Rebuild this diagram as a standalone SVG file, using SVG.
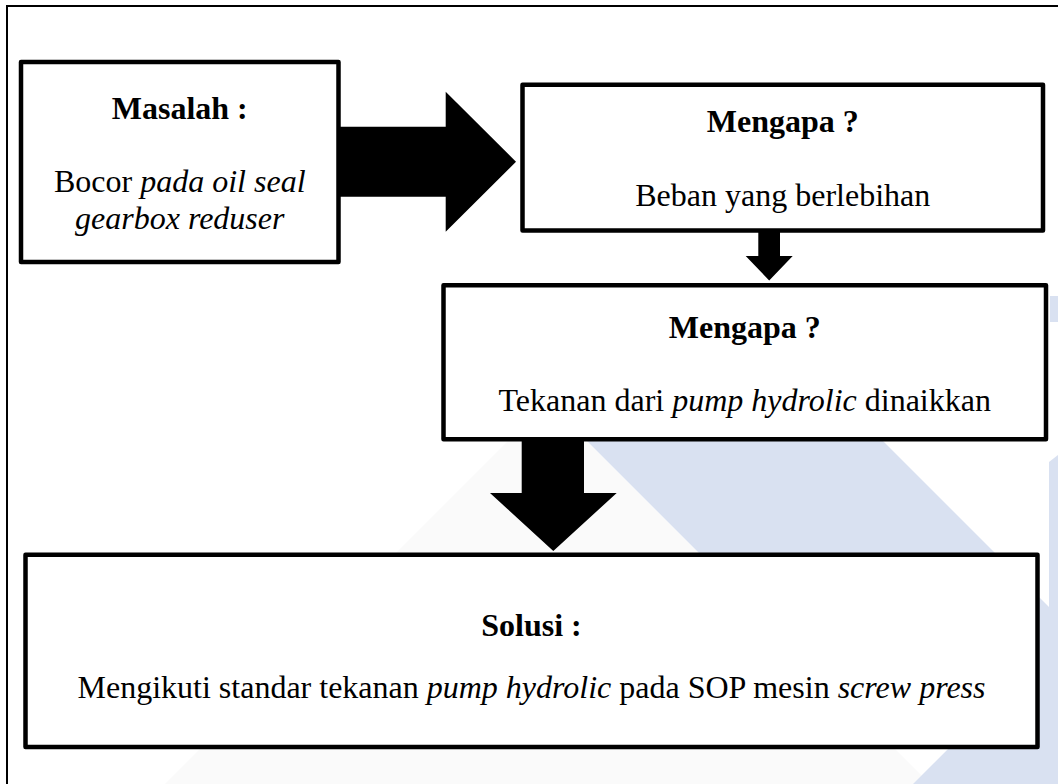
<svg xmlns="http://www.w3.org/2000/svg" width="1058" height="784" viewBox="0 0 1058 784">
  <style>
    .box { fill: #ffffff; stroke: #000000; stroke-width: 4.5; stroke-linejoin: round; }
    .arrow { fill: #000000; stroke: none; }
    .frame { fill: none; stroke: #000000; stroke-width: 2; }
    .wm { fill: #d9e1f1; stroke: none; }
    .wm-faint { fill: #fafafa; stroke: none; }
    text { font-family: "Liberation Serif", "Times New Roman", serif; font-size: 32px; fill: #000000; text-anchor: middle; }
    .title { font-weight: bold; }
    .it { font-style: italic; }
  </style>

  <rect x="0" y="0" width="1058" height="784" fill="#ffffff"/>

  <!-- background watermark shapes -->
  <g id="watermark">
    <polygon class="wm-faint" points="553,396 165,784 930,784 560,414"/>
    <polygon class="wm" points="560,414 856,414 1058,616 1058,784 913,784 948,749 895,749"/>
    <polygon class="wm" points="1049,462 1058,455 1058,620 1049,620"/>
    <rect class="wm" x="1050" y="296" width="8" height="26"/>
  </g>

  <!-- outer frame -->
  <path class="frame" d="M7 784 V6 H1058"/>

  <!-- connectors -->
  <g id="connectors">
    <polygon class="arrow" points="340,126.7 445.7,126.7 445.7,91.7 516,161.7 445.7,231.7 445.7,196.7 340,196.7"/>
    <polygon class="arrow" points="758.3,232 780,232 780,256 792.7,256 769.2,280.5 745.7,256 758.3,256"/>
    <polygon class="arrow" points="521.7,441 584,441 584,493 616.7,493 553.3,551 490,493 521.7,493"/>
  </g>

  <g id="masalah">
    <rect class="box" x="21" y="62" width="317.5" height="200"/>
    <text class="title" x="179.75" y="118.5">Masalah :</text>
    <text x="179.75" y="191.5">Bocor <tspan class="it">pada oil seal</tspan></text>
    <text class="it" x="179.75" y="229">gearbox reduser</text>
  </g>

  <g id="mengapa-1">
    <rect class="box" x="522.5" y="84.7" width="520.5" height="145.8"/>
    <text class="title" x="782.75" y="132">Mengapa ?</text>
    <text x="782.75" y="206">Beban yang berlebihan</text>
  </g>

  <g id="mengapa-2">
    <rect class="box" x="443.5" y="285.3" width="602.5" height="154"/>
    <text class="title" x="744.75" y="338">Mengapa ?</text>
    <text x="744.75" y="410.5">Tekanan dari <tspan class="it">pump hydrolic</tspan> dinaikkan</text>
  </g>

  <g id="solusi">
    <rect class="box" x="25.5" y="554.7" width="1012" height="192.3"/>
    <text class="title" x="531.5" y="636">Solusi :</text>
    <text x="531.5" y="698">Mengikuti standar tekanan <tspan class="it">pump hydrolic</tspan> pada SOP mesin <tspan class="it">screw press</tspan></text>
  </g>
</svg>
